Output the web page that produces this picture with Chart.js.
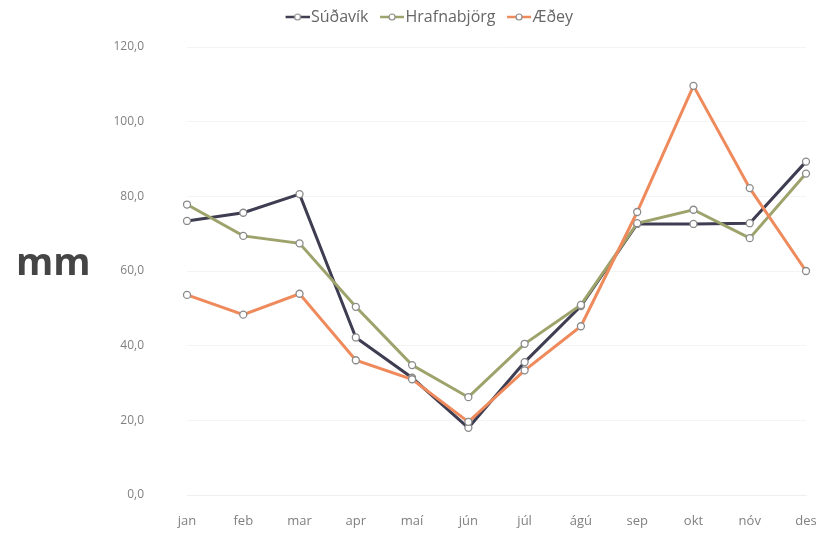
<!DOCTYPE html>
<html>
<head>
<meta charset="utf-8">
<script src="https://cdn.jsdelivr.net/npm/chart.js@4"></script>
<style>
  html, body { margin: 0; padding: 0; background: #ffffff; }
  #wrap { width: 824px; height: 535px; }
</style>
</head>
<body>
<div id="wrap"><canvas id="chart" width="824" height="535"></canvas></div>
<script>
// Mánuðir (x-ás)
const months = ['jan', 'feb', 'mar', 'apr', 'maí', 'jún', 'júl', 'ágú', 'sep', 'okt', 'nóv', 'des'];

// Úrkoma í mm, lesið af myndinni
const sudavik = [73.4, 75.6, 80.6, 42.2, 31.4, 18.0, 35.6, 50.6, 72.6, 72.6, 72.8, 89.3];
const hrafnabjorg = [77.8, 69.4, 67.4, 50.4, 34.8, 26.2, 40.5, 50.9, 72.8, 76.4, 68.8, 86.1];
const aedey = [53.6, 48.3, 53.9, 36.1, 31.0, 19.6, 33.4, 45.2, 75.8, 109.6, 82.2, 60.0];

// Ás y
const yMin = 0;
const yMax = 120;
const yStep = 20;

const lineColors = ['#3e3d52', '#9ea36c', '#ee8a5b'];

// Lítið tákn fyrir skýringar: lína með hring í miðju (hægri hluti myndar)
function legendSymbol(color) {
    const c = document.createElement('canvas');
    c.width = 33;
    c.height = 10;
    const g = c.getContext('2d');
    g.strokeStyle = color;
    g.lineWidth = 2.5;
    g.beginPath();
    g.moveTo(9, 5);
    g.lineTo(33, 5);
    g.stroke();
    g.fillStyle = '#ffffff';
    g.strokeStyle = '#8a8a8a';
    g.lineWidth = 1.2;
    g.beginPath();
    g.arc(21, 5, 3, 0, Math.PI * 2);
    g.fill();
    g.stroke();
    return c;
}

// "mm" teiknað lárétt vinstra megin, og hæð skýringa föst
const unitLabel = {
    id: 'unitLabel',
    beforeInit(chart) {
        const legend = chart.legend;
        if (legend) {
            const origFit = legend.fit;
            legend.fit = function () {
                origFit.call(this);
                this.height = 47;
            };
        }
    },
    afterDraw(chart) {
        const ctx = chart.ctx;
        ctx.save();
        ctx.font = 'bold 38px "Open Sans"';
        ctx.fillStyle = '#454545';
        ctx.textBaseline = 'alphabetic';
        ctx.fillText('mm', 16, 275);
        ctx.restore();
    }
};

function makeDataset(label, data, color, order) {
    return {
        label: label,
        data: data,
        order: order,
        borderColor: color,
        backgroundColor: color,
        borderWidth: 3,
        pointRadius: 3.5,
        pointBackgroundColor: '#ffffff',
        pointBorderColor: '#8a8a8a',
        pointBorderWidth: 1.3,
        tension: 0
    };
}

const ctx = document.getElementById('chart').getContext('2d');
new Chart(ctx, {
    type: 'line',
    data: {
        labels: months,
        datasets: [
            makeDataset('Súðavík', sudavik, lineColors[0], 3),
            makeDataset('Hrafnabjörg', hrafnabjorg, lineColors[1], 2),
            makeDataset('Æðey', aedey, lineColors[2], 1)
        ]
    },
    options: {
        responsive: false,
        animation: false,
        layout: { padding: { top: 0, right: 18, bottom: 6, left: 50 } },
        plugins: {
            legend: {
                position: 'top',
                labels: {
                    font: { family: '"Open Sans"', size: 16 },
                    color: '#666666',
                    usePointStyle: true,
                    pointStyleWidth: 20,
                    padding: 9,
                    generateLabels(chart) {
                        return chart.data.datasets.map((ds, i) => ({
                            text: ds.label,
                            pointStyle: legendSymbol(ds.borderColor),
                            fillStyle: ds.borderColor,
                            strokeStyle: ds.borderColor,
                            lineWidth: 0,
                            hidden: false,
                            datasetIndex: i,
                            fontColor: '#666666'
                        }));
                    }
                }
            },
            tooltip: { enabled: false }
        },
        scales: {
            x: {
                offset: false,
                afterFit(scale) {
                    scale.paddingLeft = 0;
                    scale.paddingRight = 0;
                    scale.height = 34;
                },
                grid: { display: false, drawTicks: false },
                border: { color: '#efefef' },
                ticks: {
                    font: { family: '"Open Sans"', size: 13 },
                    color: '#808080',
                    padding: 18,
                    maxRotation: 0
                }
            },
            y: {
                min: yMin,
                max: yMax,
                afterFit(scale) { scale.width = 137; },
                grid: {
                    color: '#f4f4f4',
                    drawTicks: true,
                    tickLength: 39,
                    tickColor: 'rgba(0,0,0,0)'
                },
                border: { display: false },
                ticks: {
                    stepSize: yStep,
                    font: { family: '"Open Sans"', size: 12 },
                    color: '#808080',
                    padding: 4,
                    callback: v => v.toFixed(1).replace('.', ',')
                }
            }
        }
    },
    plugins: [unitLabel]
});
</script>
</body>
</html>
